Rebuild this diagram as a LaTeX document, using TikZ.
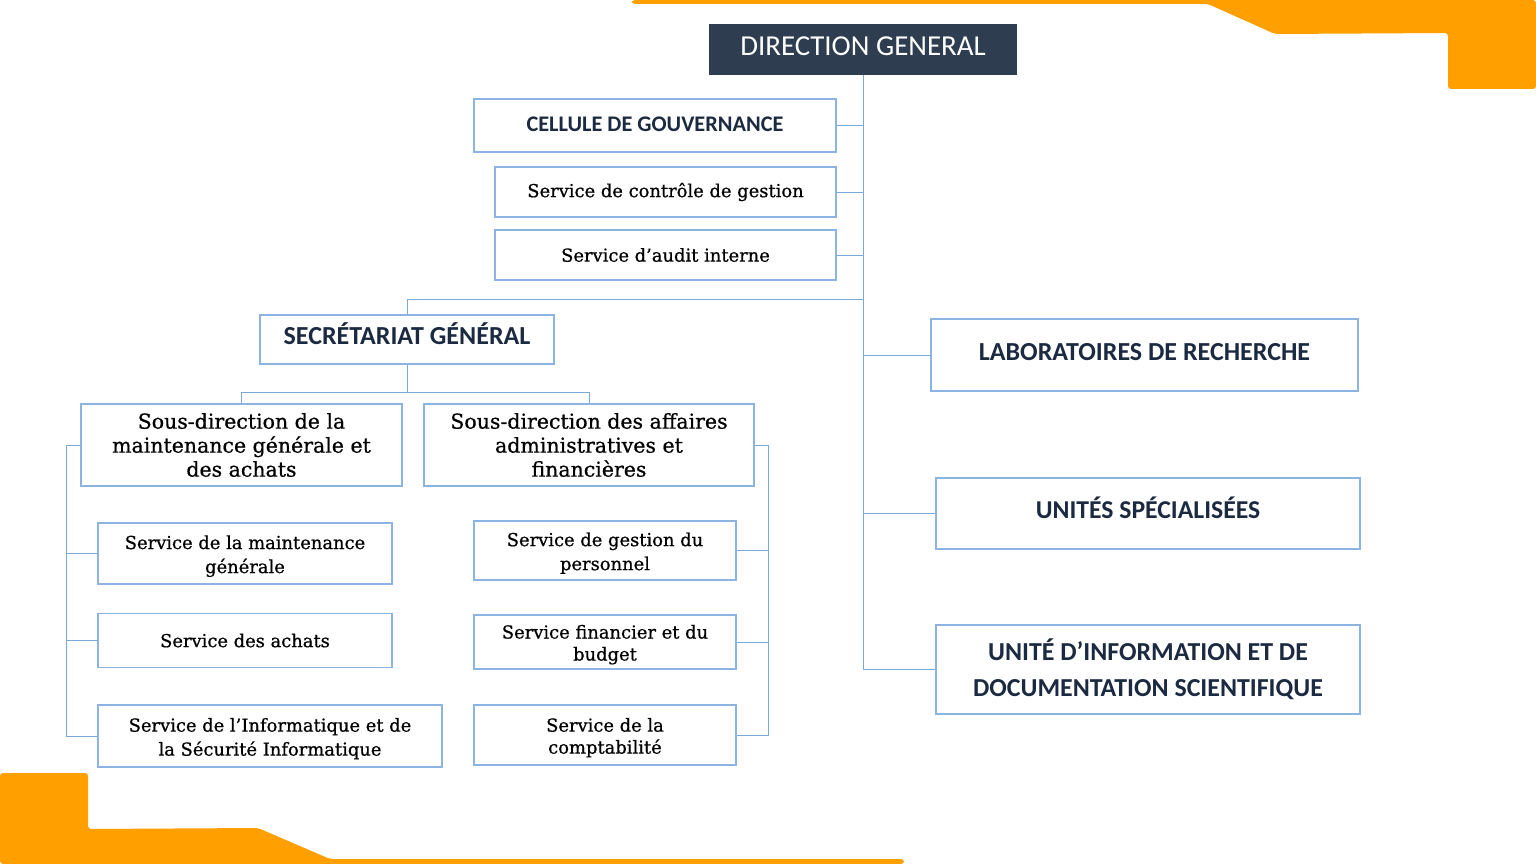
\documentclass[tikz,border=0pt]{standalone}
\usepackage{fontspec}
\newfontfamily\calibri{Carlito}
\newfontfamily\schoolbook[FakeBold=0.7]{DejaVu Serif}
\newcommand\tstrut{\rule{0pt}{19pt}}
\definecolor{orng}{HTML}{FF9F00}
\definecolor{navy}{HTML}{2E3E50}
\definecolor{headtxt}{HTML}{1B2A41}
\definecolor{boxline}{HTML}{8DB3E2}
\definecolor{conn}{HTML}{7BA9D6}
\tikzset{
  box/.style={draw=boxline, line width=1.2pt, fill=white, inner sep=0pt, align=center, anchor=center},
  headbox/.style={box, text=headtxt, text depth=6pt},
  servbox/.style={box, font=\schoolbook\fontsize{17.9}{24}\selectfont},
  sdbox/.style={box, font=\schoolbook\fontsize{20.5}{24}\selectfont},
  link/.style={draw=conn, line width=1pt}
}
\begin{document}
\begin{tikzpicture}[x=1pt,y=-1pt]
\useasboundingbox (0,0) rectangle (1536,864);
\fill[white] (0,0) rectangle (1536,864);
% orange decorations
\fill[orng, rounded corners=3pt] (632,0) -- (632,4) -- (1208,4) -- (1275,34) -- (1448,33) -- (1448,89) -- (1536,89) -- (1536,0) -- cycle;
\fill[orng, rounded corners=3pt] (0,864) -- (0,773) -- (88,773) -- (88,829) -- (258,828) -- (330,859) -- (904,859) -- (904,864) -- cycle;

% nodes
\node[box, draw=navy, fill=navy, minimum width=306pt, minimum height=49pt, text=white, text height=18.6pt, text depth=7pt, font=\calibri\fontsize{28.9}{30}\selectfont] (DG) at (863,49.5) {DIRECTION GENERAL};
\node[headbox, text height=14.4pt, text depth=3pt, minimum width=362pt, minimum height=53pt, font=\calibri\bfseries\fontsize{22.3}{24}\selectfont] (CG) at (655,125.5) {CELLULE DE GOUVERNANCE};
\node[servbox, minimum width=341pt, minimum height=50pt] (CTRL) at (665.5,192) {Service de contrôle de gestion};
\node[servbox, minimum width=341pt, minimum height=50pt] (AUD) at (665.5,255) {Service d’audit interne};
\node[headbox, text height=16.7pt, minimum width=294pt, minimum height=49pt, font=\calibri\bfseries\fontsize{26}{28}\selectfont] (SG) at (407,339.5) {SECRÉTARIAT GÉNÉRAL};
\node[sdbox, minimum width=321pt, minimum height=82pt] (SD1) at (241.5,445) {Sous-direction de la\\maintenance générale et\\des achats};
\node[sdbox, minimum width=330pt, minimum height=82pt] (SD2) at (589,445) {Sous-direction des affaires\\administratives et\\financières};
\node[servbox, minimum width=294pt, minimum height=61pt] (SMG) at (245,553.5) {\tstrut Service de la maintenance\\générale};
\node[servbox, minimum width=294pt, minimum height=54pt] (SA) at (245,640.5) {Service des achats};
\node[servbox, minimum width=344pt, minimum height=62pt] (SI) at (270,736) {\tstrut Service de l’Informatique et de\\la Sécurité Informatique};
\node[servbox, minimum width=262pt, minimum height=59pt] (SGP) at (605,550.5) {\tstrut Service de gestion du\\personnel};
\node[servbox, minimum width=262pt, minimum height=54pt, font=\schoolbook\fontsize{17.9}{22}\selectfont] (SFB) at (605,642) {\tstrut Service financier et du\\budget};
\node[servbox, minimum width=262pt, minimum height=60pt, font=\schoolbook\fontsize{17.9}{22}\selectfont] (SC) at (605,735) {\tstrut Service de la\\comptabilité};
\node[headbox, text height=16.7pt, minimum width=427pt, minimum height=72pt, font=\calibri\bfseries\fontsize{26}{28}\selectfont] (LAB) at (1144.5,355) {LABORATOIRES DE RECHERCHE};
\node[headbox, text height=16.6pt, minimum width=424pt, minimum height=71pt, font=\calibri\bfseries\fontsize{25.7}{28}\selectfont] (US) at (1148,513.5) {UNITÉS SPÉCIALISÉES};
\node[box, text=headtxt, minimum width=424pt, minimum height=89pt, font=\calibri\bfseries\fontsize{25.9}{36}\selectfont] (UI) at (1148,669.5) {UNITÉ D’INFORMATION ET DE\\DOCUMENTATION SCIENTIFIQUE};

% helper coordinates
\coordinate (jSG) at (863,299);
\coordinate (hSD) at (0,392);
\coordinate (lb) at (66,0);
\coordinate (rb) at (768,0);

% connectors: main trunk
\draw[link] (DG.south) -- (DG.south |- UI.west) -- (UI.west);
\draw[link] (CG.east) -- (CG.east -| DG.south);
\draw[link] (CTRL.east) -- (CTRL.east -| DG.south);
\draw[link] (AUD.east) -- (AUD.east -| DG.south);
\draw[link] (LAB.west) -- (LAB.west -| DG.south);
\draw[link] (US.west) -- (US.west -| DG.south);
\draw[link] (jSG) -- (jSG -| SG.north) -- (SG.north);
% secretariat
\draw[link] (SG.south) -- (SG.south |- hSD);
\draw[link] (SD1.north) -- (SD1.north |- hSD) -- (SD2.north |- hSD) -- (SD2.north);
% left bracket
\draw[link] (SD1.west) -- (SD1.west -| lb) -- (lb |- SI.west) -- (SI.west);
\draw[link] (SMG.west) -- (SMG.west -| lb);
\draw[link] (SA.west) -- (SA.west -| lb);
% right bracket
\draw[link] (SD2.east) -- (SD2.east -| rb) -- (rb |- SC.east) -- (SC.east);
\draw[link] (SGP.east) -- (SGP.east -| rb);
\draw[link] (SFB.east) -- (SFB.east -| rb);
\end{tikzpicture}
\end{document}
